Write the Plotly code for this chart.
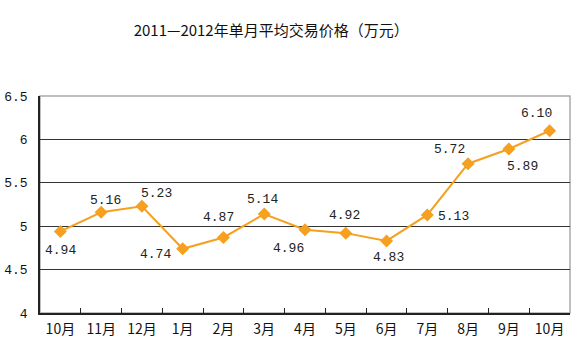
import plotly.graph_objects as go

months = ["10月", "11月", "12月", "1月", "2月", "3月", "4月", "5月", "6月", "7月", "8月", "9月", "10月"]
prices = [4.94, 5.16, 5.23, 4.74, 4.87, 5.14, 4.96, 4.92, 4.83, 5.13, 5.72, 5.89, 6.10]
y_ticks = [4, 4.5, 5, 5.5, 6, 6.5]
y_tick_text = ["4", "4.5", "5", "5.5", "6", "6.5"]
x_idx = list(range(len(months)))

# label offsets (pixels) relative to each marker
label_dx = [0, 4, 15, -27, -5, -2, -17, -1, 2, 26, -19, 14, -13]
label_dy = [-19, 12, 13, -6, 20, 15, -19, 18, -17, -2, 14, -18, 17]

orange = "#F5A01E"
font_mono = "Liberation Mono, DejaVu Sans Mono, monospace"

fig = go.Figure()
fig.add_trace(go.Scatter(
    x=x_idx, y=prices,
    mode="lines+markers",
    line=dict(color=orange, width=2),
    marker=dict(symbol="diamond", size=10, color=orange),
    cliponaxis=False,
    showlegend=False,
    hoverinfo="skip",
))

for xi, v, dx, dy in zip(x_idx, prices, label_dx, label_dy):
    fig.add_annotation(x=xi, y=v, text=f"{v:.2f}", showarrow=False,
                       xshift=dx, yshift=dy, xanchor="center", yanchor="middle",
                       font=dict(family=font_mono, size=13, color="#222222"))

fig.update_layout(
    width=577, height=358,
    margin=dict(l=40, r=7, t=96, b=45, autoexpand=False),
    paper_bgcolor="white", plot_bgcolor="white",
    title=dict(text="2011—2012年单月平均交易价格（万元）", x=0.47, xanchor="center", y=0.915, yanchor="middle",
               font=dict(family="Noto Sans CJK SC", size=15, color="#111111")),
    xaxis=dict(
        type="linear", automargin=False,
        range=[-0.5, 12.5],
        tickvals=x_idx, ticktext=months,
        ticks="", showgrid=False,
        showline=True, linecolor="#222222", linewidth=1.5, mirror=False,
        tickfont=dict(family="Noto Sans CJK SC", size=14, color="#111111"),
        ticklabelstandoff=2,
        zeroline=False,
    ),
    xaxis2=dict(
        overlaying="x", range=[-0.5, 12.5], side="bottom", automargin=False,
        tickvals=[i + 0.5 for i in x_idx[:-1]],
        ticks="inside", ticklen=5, tickcolor="#222222", tickwidth=1,
        showticklabels=False, showgrid=False, showline=False, zeroline=False,
    ),
    yaxis=dict(
        range=[4, 6.5], automargin=False,
        tickvals=y_ticks, ticktext=y_tick_text,
        showgrid=True, gridcolor="#333333", gridwidth=1,
        showline=True, linecolor="#222222", linewidth=1.5,
        ticks="", ticklen=0, ticklabelstandoff=8,
        tickfont=dict(family=font_mono, size=13, color="#111111"),
        zeroline=False,
    ),
)
# invisible trace to activate xaxis2
fig.add_trace(go.Scatter(x=[0], y=[None], xaxis="x2", showlegend=False, hoverinfo="skip"))

# light borders on top and right
fig.add_shape(type="rect", xref="paper", yref="paper", x0=0, y0=0, x1=1, y1=1,
              line=dict(color="#aaaaaa", width=1.5), layer="below")

fig.write_html("out.html", config={"displayModeBar": False},
               post_script="document.body.style.margin='0';document.body.style.overflow='hidden';")
